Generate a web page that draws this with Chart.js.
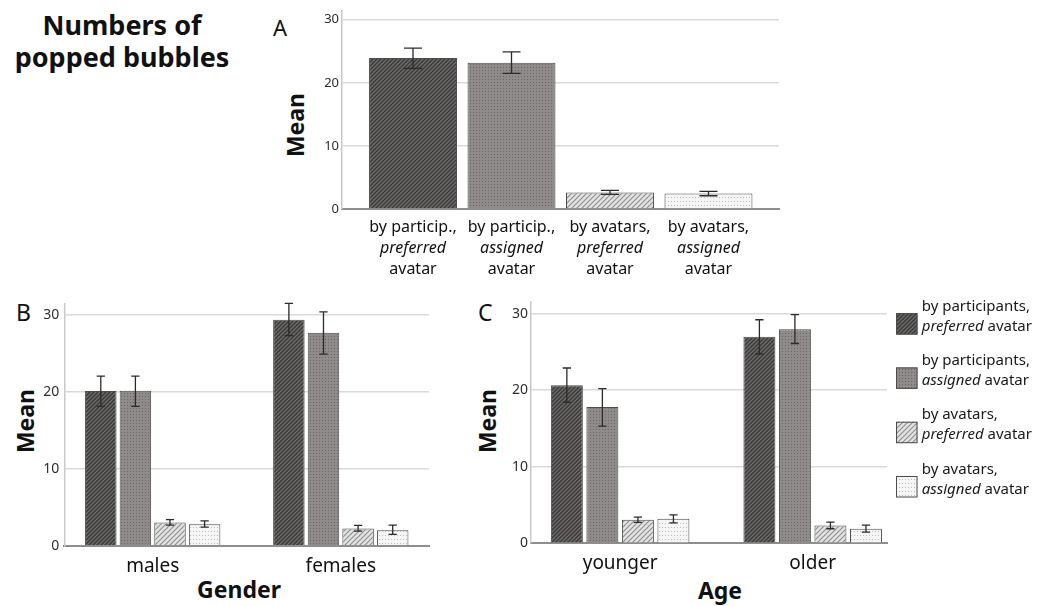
<!DOCTYPE html>
<html><head><meta charset="utf-8">
<script src="https://cdn.jsdelivr.net/npm/chart.js@4.4.1/dist/chart.umd.min.js"></script>
<style>
body{margin:0;background:#fff;width:1037px;height:606px;overflow:hidden;position:relative;font-family:"Noto Sans",sans-serif;color:#111}
canvas{position:absolute}
.t{position:absolute;line-height:1;white-space:nowrap}
.b{font-weight:bold}
.rot{transform:translate(-50%,-50%) rotate(-90deg)}
.cx{transform:translateX(-50%)}
</style></head><body>
<div class="t b" style="left:0;width:244px;text-align:center;top:11px;font-size:27px">Numbers of</div>
<div class="t b" style="left:0;width:244px;text-align:center;top:43px;font-size:27px">popped bubbles</div>
<div class="t" style="left:273px;top:16px;font-size:22px">A</div>
<div class="t" style="left:16px;top:301px;font-size:23px">B</div>
<div class="t" style="left:478px;top:301px;font-size:23px">C</div>
<div class="t b rot" style="left:295px;top:125px;font-size:23px">Mean</div>
<div class="t b rot" style="left:25px;top:421px;font-size:23px">Mean</div>
<div class="t b rot" style="left:487px;top:421px;font-size:23px">Mean</div>
<div class="t b cx" style="left:239px;top:578px;font-size:23px">Gender</div>
<div class="t b cx" style="left:720px;top:579px;font-size:23px">Age</div>

<canvas id="cA" width="510" height="290" style="left:280px;top:0"></canvas>
<canvas id="cB" width="440" height="316" style="left:0;top:290px"></canvas>
<canvas id="cC" width="577" height="316" style="left:460px;top:290px"></canvas>

<script>
// ---------- data ----------
const seriesNames = ["by participants,|*preferred* avatar", "by participants,|*assigned* avatar", "by avatars,|*preferred* avatar", "by avatars,|*assigned* avatar"];

const categoriesA = ["by particip.,|*preferred*|avatar", "by particip.,|*assigned*|avatar", "by avatars,|*preferred*|avatar", "by avatars,|*assigned*|avatar"];
const meansA = [23.95, 23.2, 2.63, 2.47];
const lowA   = [22.3, 21.5, 2.32, 2.1];
const highA  = [25.5, 24.9, 2.95, 2.8];

const groupsB = ["males", "females"];
const meansB = [[20.1, 29.36], [20.15, 27.7], [3.01, 2.24], [2.8, 2.02]];
const lowB   = [[18.12, 27.3], [18.1, 24.9], [2.67, 1.9], [2.41, 1.46]];
const highB  = [[22.04, 31.5], [22.04, 30.4], [3.4, 2.63], [3.23, 2.67]];

const groupsC = ["younger", "older"];
const meansC = [[20.65, 26.97], [17.8, 27.97], [3.07, 2.34], [3.2, 1.9]];
const lowC   = [[18.4, 24.7], [15.3, 26.1], [2.73, 1.9], [2.68, 1.47]];
const highC  = [[22.9, 29.2], [20.2, 29.87], [3.42, 2.77], [3.72, 2.38]];

const yTicks = [0, 10, 20, 30];

// ---------- styles ----------
const FAM = '"Noto Sans", sans-serif';
function makePattern(kind){
  const c = document.createElement('canvas'); const g = c.getContext('2d');
  if (kind === 0){
    c.width = c.height = 4; g.fillStyle = '#6d6a6a'; g.fillRect(0,0,4,4);
    g.strokeStyle = '#3a3838'; g.lineWidth = 1.3; g.beginPath();
    g.moveTo(-1,5); g.lineTo(5,-1); g.moveTo(-1,1); g.lineTo(1,-1); g.moveTo(3,5); g.lineTo(5,3); g.stroke();
  } else if (kind === 1){
    c.width = 3; c.height = 3; g.fillStyle = '#8f8b8a'; g.fillRect(0,0,3,3);
    g.fillStyle = '#6c6867'; g.fillRect(1,1,1,1);
  } else if (kind === 2){
    c.width = c.height = 5; g.fillStyle = '#e2e2e2'; g.fillRect(0,0,5,5);
    g.strokeStyle = '#8e8e8e'; g.lineWidth = 1.1; g.beginPath();
    g.moveTo(-1,6); g.lineTo(6,-1); g.moveTo(-1,1); g.lineTo(1,-1); g.moveTo(4,6); g.lineTo(6,4); g.stroke();
  } else {
    c.width = 3; c.height = 4; g.fillStyle = '#f5f5f5'; g.fillRect(0,0,3,4);
    g.fillStyle = '#bdbdbd'; g.fillRect(1,1,1,1);
  }
  return g.createPattern(c, 'repeat');
}
const patterns = [0,1,2,3].map(makePattern);
const BORDER = '#4d4b4b';

function drawRich(ctx, text, x, y, size, align, color){
  const parts = text.split('*');
  const segs = parts.map((p,i)=>({t:p, it: i%2===1})).filter(s=>s.t.length);
  let w = 0;
  segs.forEach(s=>{ ctx.font = (s.it?'italic ':'') + size + 'px ' + FAM; s.w = ctx.measureText(s.t).width; w += s.w; });
  let cx = align === 'center' ? x - w/2 : x;
  ctx.fillStyle = color || '#111'; ctx.textBaseline = 'alphabetic'; ctx.textAlign = 'left';
  segs.forEach(s=>{ ctx.font = (s.it?'italic ':'') + size + 'px ' + FAM; ctx.fillText(s.t, cx, y); cx += s.w; });
}

function errorPlugin(cap){
  return { id:'errbars', afterDatasetsDraw(chart){
    const ctx = chart.ctx, ys = chart.scales.y;
    chart.data.datasets.forEach((ds, di)=>{
      const meta = chart.getDatasetMeta(di);
      meta.data.forEach((bar, i)=>{
        const x = bar.x, y1 = ys.getPixelForValue(ds.errLo[i]), y2 = ys.getPixelForValue(ds.errHi[i]);
        ctx.save(); ctx.strokeStyle = '#2b2b2b'; ctx.lineWidth = 1.3; ctx.beginPath();
        ctx.moveTo(x, y1); ctx.lineTo(x, y2);
        ctx.moveTo(x-cap/2, y1); ctx.lineTo(x+cap/2, y1);
        ctx.moveTo(x-cap/2, y2); ctx.lineTo(x+cap/2, y2);
        ctx.stroke(); ctx.restore();
      });
    });
  }};
}
function catPlugin(labels, first, lh, size){
  return { id:'catlabels', afterDraw(chart){
    const ctx = chart.ctx, xs = chart.scales.x, b = chart.chartArea.bottom;
    labels.forEach((lab, i)=>{
      const cx = xs.getPixelForValue(i);
      lab.split('|').forEach((ln, j)=> drawRich(ctx, ln, cx, b + first + j*lh, size, 'center', '#111'));
    });
  }};
}
function legendPlugin(){
  return { id:'legendC', afterDraw(chart){
    const ctx = chart.ctx, ca = chart.chartArea;
    seriesNames.forEach((name, i)=>{
      const bx = ca.right + 9, by = ca.top + 11.7 + i*54.3, s = 21.5;
      ctx.save(); ctx.fillStyle = patterns[i]; ctx.fillRect(bx, by, s, s);
      ctx.strokeStyle = BORDER; ctx.lineWidth = 1; ctx.strokeRect(bx+0.5, by+0.5, s-1, s-1); ctx.restore();
      name.split('|').forEach((ln, j)=> drawRich(ctx, ln, bx + 25.7, by - 2.4 + j*20, 15, 'left', '#1a1a1a'));
    });
  }};
}

function buildChart(id, o){
  return new Chart(document.getElementById(id), {
    type:'bar',
    data:{ datasets:o.datasets },
    options:{
      responsive:false, animation:false, devicePixelRatio:1,
      layout:{ padding:{ top:o.padTop, right:o.padRight, left:0, bottom:0 } },
      plugins:{ legend:{display:false}, tooltip:{enabled:false} },
      scales:{
        x:{ type:'linear', min:o.xmin, max:o.xmax, offset:false,
            afterBuildTicks:s=>{ s.ticks = o.cats.map((_,i)=>({value:i})); },
            ticks:{display:false}, grid:{display:false, offset:false},
            border:{display:true, color:'#8e8e8e', width:2},
            afterFit:s=>{ s.height = o.xH; } },
        y:{ min:0, max:o.ymax,
            afterBuildTicks:s=>{ s.ticks = yTicks.map(v=>({value:v})); },
            ticks:{ font:{size:o.tickSize, family:FAM}, color:'#2e2e2e', padding:o.tickPad },
            grid:{ color:'#dadada', lineWidth:1.6, drawTicks:false },
            border:{ color:'#c9c9c9', width:1.5 },
            afterFit:s=>{ s.width = o.yW; } }
      }
    },
    plugins:o.plugins
  });
}

// ---------- chart A ----------
buildChart('cA', {
  cats:categoriesA, xmin:-0.721, xmax:3.716, ymax:31.42,
  padTop:10, padRight:11, xH:81, yW:62, tickSize:13, tickPad:3,
  datasets:[{ data: meansA.map((v,i)=>({x:i, y:v})), errLo:lowA, errHi:highA,
    backgroundColor:patterns, borderColor:BORDER, borderWidth:1,
    categoryPercentage:1, barPercentage:0.893 }],
  plugins:[errorPlugin(18), catPlugin(categoriesA, 23.3, 20.9, 16)]
});

// ---------- chart B ----------
buildChart('cB', {
  cats:groupsB, xmin:-0.470, xmax:1.469, ymax:31.5,
  padTop:11.7, padRight:11, xH:60.3, yW:64.3, tickSize:14, tickPad:5,
  datasets: meansB.map((m,k)=>({ data:m.map((v,i)=>({x:i, y:v})), errLo:lowB[k], errHi:highB[k],
    backgroundColor:patterns[k], borderColor:BORDER, borderWidth:1,
    categoryPercentage:0.736, barPercentage:0.91 })),
  plugins:[errorPlugin(8.3), catPlugin(groupsB, 26, 20, 19)]
});

// ---------- chart C ----------
buildChart('cC', {
  cats:groupsC, xmin:-0.463, xmax:1.386, ymax:31.6,
  padTop:10, padRight:150, xH:62.7, yW:71, tickSize:14, tickPad:3,
  datasets: meansC.map((m,k)=>({ data:m.map((v,i)=>({x:i, y:v})), errLo:lowC[k], errHi:highC[k],
    backgroundColor:patterns[k], borderColor:BORDER, borderWidth:1,
    categoryPercentage:0.738, barPercentage:0.90 })),
  plugins:[errorPlugin(8.3), catPlugin(groupsC, 25.7, 20, 19), legendPlugin()]
});
</script>
</body></html>
